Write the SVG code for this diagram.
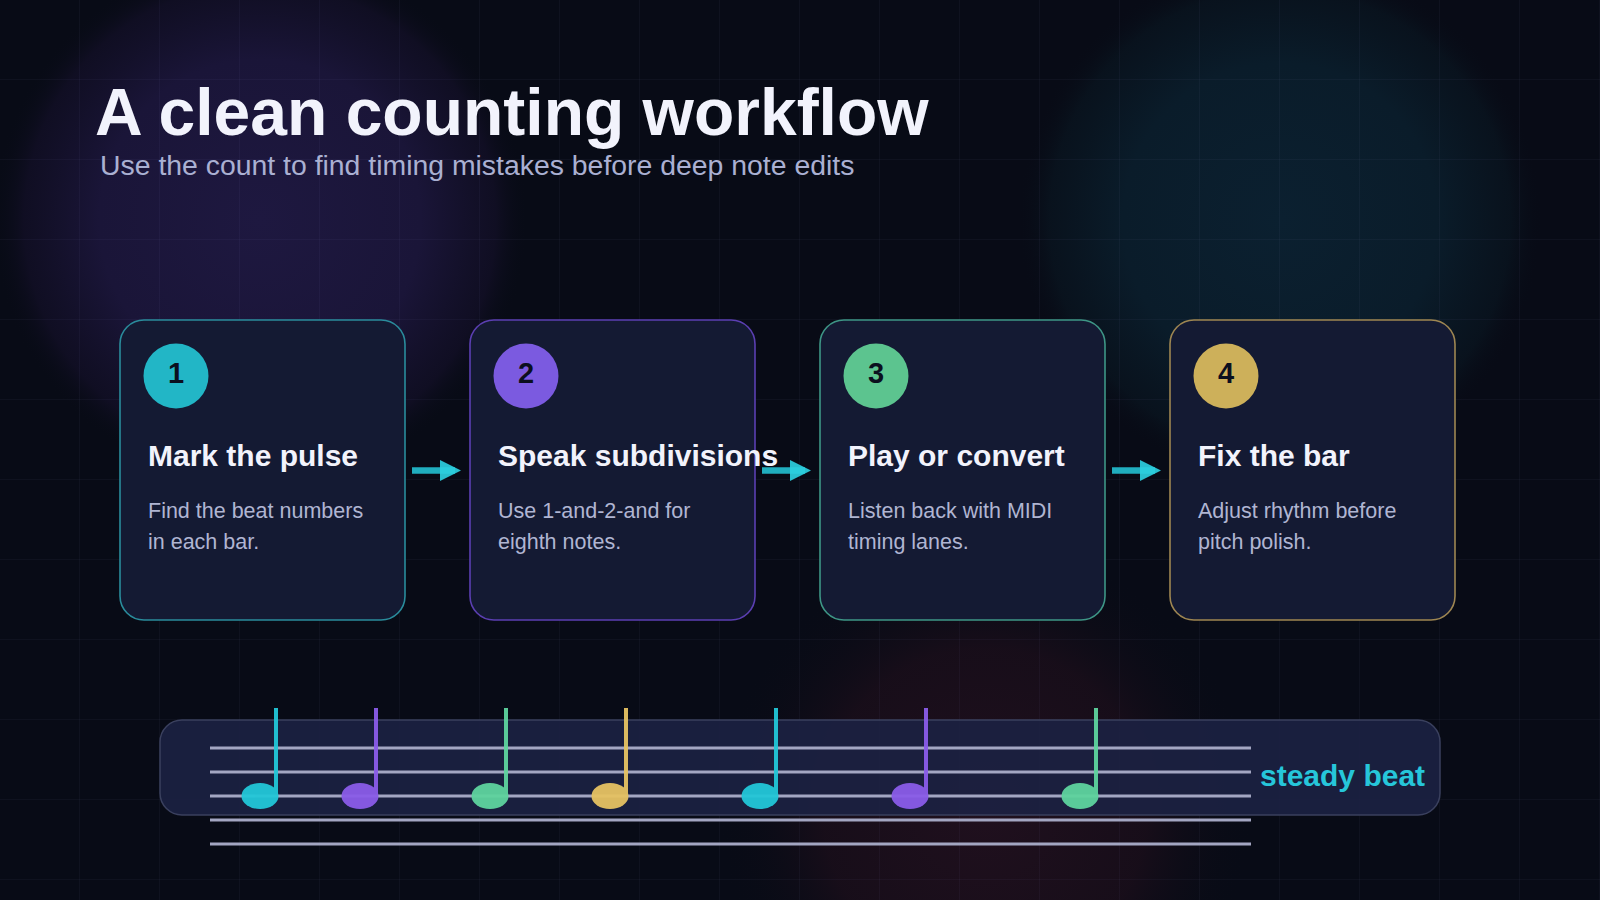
<svg xmlns="http://www.w3.org/2000/svg" width="1600" height="900" viewBox="0 0 1600 900">
<defs>
<radialGradient id="gPurple" cx="0.5" cy="0.5" r="0.5">
<stop offset="0" stop-color="#1e1840"/>
<stop offset="0.6" stop-color="#1a1538"/>
<stop offset="0.88" stop-color="#120f26" stop-opacity="0.8"/>
<stop offset="1" stop-color="#080b16" stop-opacity="0"/>
</radialGradient>
<radialGradient id="gTeal" cx="0.5" cy="0.5" r="0.5">
<stop offset="0" stop-color="#0b2030"/>
<stop offset="0.6" stop-color="#0a1c2a"/>
<stop offset="0.88" stop-color="#09141f" stop-opacity="0.8"/>
<stop offset="1" stop-color="#080b16" stop-opacity="0"/>
</radialGradient>
<radialGradient id="gRed" cx="0.5" cy="0.5" r="0.5">
<stop offset="0" stop-color="#20101e"/>
<stop offset="0.6" stop-color="#1a0e1a" stop-opacity="0.85"/>
<stop offset="1" stop-color="#080b16" stop-opacity="0"/>
</radialGradient>
<pattern id="grid" width="80" height="80" patternUnits="userSpaceOnUse">
<path d="M80 0 V80 M0 80 H80" fill="none" stroke="#aab4ff" stroke-opacity="0.08" stroke-width="1"/>
</pattern>
<style>
.card{fill:#141a33;stroke-width:1.6}
.num{font-family:"Liberation Sans",Arial,sans-serif;font-weight:700;font-size:29px;fill:#0b0f1e;text-anchor:middle}
.ttl{font-family:"Liberation Sans",Arial,sans-serif;font-weight:700;font-size:30px;fill:#f2f3fc}
.desc{font-family:"Liberation Sans",Arial,sans-serif;font-size:21.5px;fill:#b0b5d2}
.conn{stroke:#20aebf;stroke-width:6.5;fill:none}
.head{fill:#2ccfdf;fill-opacity:0.92}
.staff{stroke:#a3a6c2;stroke-width:3}
.stem{stroke-width:4}
</style>
</defs>
<rect width="1600" height="900" fill="#080b16"/>
<circle cx="260" cy="220" r="268" fill="url(#gPurple)"/>
<circle cx="1280" cy="220" r="262" fill="url(#gTeal)"/>
<circle cx="985" cy="810" r="270" fill="url(#gRed)"/>
<rect width="1600" height="900" fill="url(#grid)"/>

<text x="95" y="135" font-family="Liberation Sans,Arial,sans-serif" font-weight="700" font-size="66" fill="#f2f3fc">A clean counting workflow</text>
<text x="100" y="175" font-family="Liberation Sans,Arial,sans-serif" font-size="28.4" fill="#aab0d2">Use the count to find timing mistakes before deep note edits</text>

<g id="connectors">
<line class="conn" x1="412" y1="470.5" x2="455" y2="470.5"/>
<path class="head" d="M440 460 L461 470.5 L440 481 Z"/>
<line class="conn" x1="762" y1="470.5" x2="805" y2="470.5"/>
<path class="head" d="M790 460 L811 470.5 L790 481 Z"/>
<line class="conn" x1="1112" y1="470.5" x2="1155" y2="470.5"/>
<path class="head" d="M1140 460 L1161 470.5 L1140 481 Z"/>
</g>

<g id="node1">
<rect class="card" x="120" y="320" width="285" height="300" rx="24" stroke="#2a8c9c"/>
<circle cx="176" cy="376" r="32.5" fill="#22b6c6"/>
<text class="num" x="176" y="383">1</text>
<text class="ttl" x="148" y="466">Mark the pulse</text>
<text class="desc" x="148" y="518">Find the beat numbers</text>
<text class="desc" x="148" y="549">in each bar.</text>
</g>
<g id="node2">
<rect class="card" x="470" y="320" width="285" height="300" rx="24" stroke="#5b3fb2"/>
<circle cx="526" cy="376" r="32.5" fill="#7b5ae0"/>
<text class="num" x="526" y="383">2</text>
<text class="ttl" x="498" y="466">Speak subdivisions</text>
<text class="desc" x="498" y="518">Use 1-and-2-and for</text>
<text class="desc" x="498" y="549">eighth notes.</text>
</g>
<g id="node3">
<rect class="card" x="820" y="320" width="285" height="300" rx="24" stroke="#3e9686"/>
<circle cx="876" cy="376" r="32.5" fill="#5cc48f"/>
<text class="num" x="876" y="383">3</text>
<text class="ttl" x="848" y="466">Play or convert</text>
<text class="desc" x="848" y="518">Listen back with MIDI</text>
<text class="desc" x="848" y="549">timing lanes.</text>
</g>
<g id="node4">
<rect class="card" x="1170" y="320" width="285" height="300" rx="24" stroke="#9e8652"/>
<circle cx="1226" cy="376" r="32.5" fill="#cdb05a"/>
<text class="num" x="1226" y="383">4</text>
<text class="ttl" x="1198" y="466">Fix the bar</text>
<text class="desc" x="1198" y="518">Adjust rhythm before</text>
<text class="desc" x="1198" y="549">pitch polish.</text>
</g>

<g id="staff">
<rect x="160" y="720" width="1280" height="95" rx="22" fill="#1c2142" fill-opacity="0.9" stroke="#3a405e" stroke-width="1.5"/>
<line class="staff" x1="210" y1="748" x2="1251" y2="748"/>
<line class="staff" x1="210" y1="772" x2="1251" y2="772"/>
<line class="staff" x1="210" y1="796" x2="1251" y2="796"/>
<line class="staff" x1="210" y1="820" x2="1251" y2="820"/>
<line class="staff" x1="210" y1="844" x2="1251" y2="844"/>
<g opacity="0.95">
<line class="stem" x1="276" y1="708" x2="276" y2="793" stroke="#22c7d8"/>
<ellipse cx="260" cy="796" rx="18.5" ry="13" fill="#22c7d8"/>
<line class="stem" x1="376" y1="708" x2="376" y2="793" stroke="#8a5ce8"/>
<ellipse cx="360" cy="796" rx="18.5" ry="13" fill="#8a5ce8"/>
<line class="stem" x1="506" y1="708" x2="506" y2="793" stroke="#5ed49e"/>
<ellipse cx="490" cy="796" rx="18.5" ry="13" fill="#5ed49e"/>
<line class="stem" x1="626" y1="708" x2="626" y2="793" stroke="#e6c262"/>
<ellipse cx="610" cy="796" rx="18.5" ry="13" fill="#e6c262"/>
<line class="stem" x1="776" y1="708" x2="776" y2="793" stroke="#22c7d8"/>
<ellipse cx="760" cy="796" rx="18.5" ry="13" fill="#22c7d8"/>
<line class="stem" x1="926" y1="708" x2="926" y2="793" stroke="#8a5ce8"/>
<ellipse cx="910" cy="796" rx="18.5" ry="13" fill="#8a5ce8"/>
<line class="stem" x1="1096" y1="708" x2="1096" y2="793" stroke="#5ed49e"/>
<ellipse cx="1080" cy="796" rx="18.5" ry="13" fill="#5ed49e"/>
</g>
<text x="1260" y="786" font-family="Liberation Sans,Arial,sans-serif" font-weight="700" font-size="30" fill="#26c6da">steady beat</text>
</g>
</svg>
